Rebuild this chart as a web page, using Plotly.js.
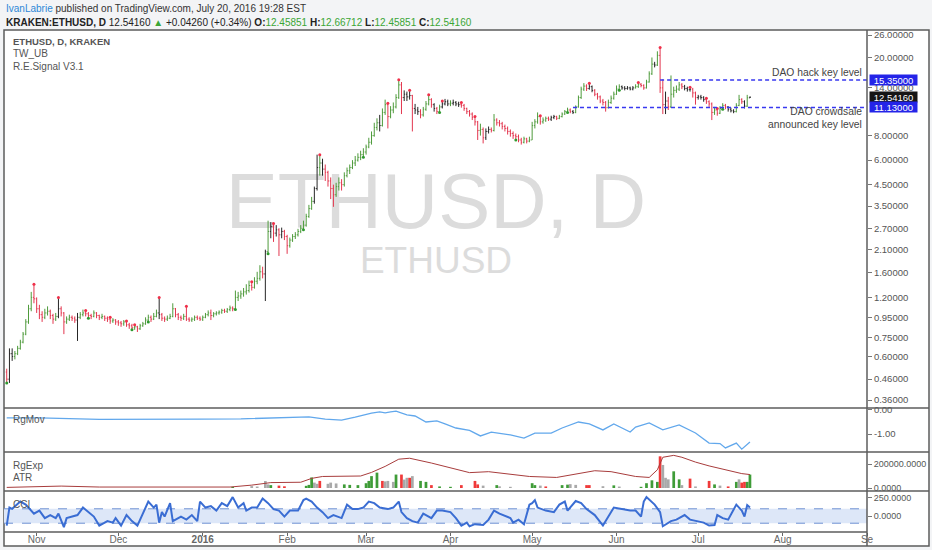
<!DOCTYPE html>
<html>
<head>
<meta charset="utf-8">
<script src="https://cdn.plot.ly/plotly-3.0.1.min.js"></script>
<style>
  html, body { margin: 0; padding: 0; background: #f3f4f6; }
  #chart { width: 932px; height: 550px; }
</style>
</head>
<body>
<div id="chart"></div>
<script>
// daily bars, KRAKEN:ETHUSD, from 2015-10-21 to 2016-07-20
const barOpen = [
  0.50,0.46,0.62,0.60,0.62,0.66,0.71,0.78,0.90,1.05,1.20,
  1.18,1.05,0.98,0.95,1.00,1.02,0.97,0.93,0.96,1.05,1.00,0.90,0.93,0.95,0.94,0.92,0.95,0.98,1.00,0.99,0.97,0.96,1.00,0.97,0.95,0.96,0.94,0.93,0.91,0.92,
  0.90,0.89,0.88,0.90,0.87,0.86,0.84,0.85,0.83,0.86,0.88,0.92,0.95,0.93,0.96,1.00,0.98,0.94,0.93,0.94,0.96,1.05,0.98,0.95,0.94,0.96,0.93,0.92,0.93,0.95,0.94,
  0.93,0.95,0.98,1.00,0.97,0.99,1.00,1.01,1.03,1.02,1.04,1.06,1.05,1.20,1.22,1.25,1.28,1.30,1.38,1.35,1.45,1.50,1.62,1.58,2.05,2.60,2.75,2.55,2.65,2.50,2.60,
  2.45,2.20,2.35,2.45,2.50,2.60,2.70,2.80,3.10,3.40,3.70,4.30,5.50,5.80,5.40,5.20,4.70,4.30,4.00,4.40,4.60,4.50,5.00,5.30,5.50,5.80,6.00,6.20,6.40,
  6.60,7.00,7.40,8.00,8.80,9.30,9.00,10.50,11.50,10.00,10.80,11.20,12.50,14.50,12.50,13.00,12.60,12.80,11.00,10.80,10.60,10.20,10.90,11.60,12.20,11.50,11.00,10.60,11.20,11.60,11.90,
  11.60,11.70,11.80,11.60,11.50,11.40,11.00,10.60,10.30,9.90,9.40,8.50,8.60,7.80,8.40,8.60,8.50,9.60,9.30,9.20,8.90,8.70,8.40,8.20,8.00,7.90,7.60,7.40,7.70,7.50,
  7.60,9.00,9.40,10.00,9.40,9.60,9.80,9.70,9.90,10.00,9.80,10.00,10.30,10.60,10.80,10.60,10.50,11.20,12.50,13.80,14.30,13.90,14.20,13.60,13.00,12.60,12.00,11.80,11.10,11.80,12.40,
  13.00,13.80,14.20,14.00,13.90,14.00,13.80,14.00,14.20,14.60,14.40,14.00,15.00,16.50,18.50,18.30,20.50,14.00,11.50,12.00,11.20,13.00,13.60,13.80,14.50,14.20,13.90,13.70,13.80,13.20,
  12.50,12.60,12.50,12.20,11.90,11.60,10.50,10.80,10.40,11.00,11.40,11.20,10.90,10.70,10.60,11.40,12.20,11.90,11.30,12.46
];
const barHigh = [
  0.52,0.66,0.66,0.64,0.68,0.73,0.80,0.93,1.10,1.28,1.40,
  1.20,1.10,1.02,1.05,1.08,1.04,0.99,1.00,1.20,1.08,1.01,0.96,0.98,0.97,0.96,1.00,1.01,1.04,1.03,1.01,0.99,1.03,1.01,0.98,0.99,0.97,0.96,0.95,0.94,0.93,
  0.92,0.91,0.92,0.91,0.89,0.88,0.87,0.86,0.88,0.90,0.95,0.98,0.97,1.00,1.04,1.20,1.00,0.96,0.97,0.99,1.12,1.06,1.00,0.97,0.99,1.08,0.95,0.95,0.97,0.97,0.96,
  0.97,1.00,1.03,1.04,1.01,1.02,1.03,1.05,1.05,1.06,1.09,1.08,1.30,1.28,1.30,1.34,1.40,1.46,1.44,1.52,1.62,1.75,1.72,2.10,2.95,2.90,2.85,2.80,2.70,2.72,2.65,
  2.50,2.42,2.52,2.58,2.68,2.80,2.95,3.20,3.55,3.90,4.40,6.40,6.40,6.10,5.70,5.30,4.90,4.50,4.60,4.90,4.80,5.20,5.50,5.70,6.00,6.30,6.50,6.70,6.90,
  7.20,7.80,8.40,9.30,9.80,10.20,11.00,12.20,11.70,11.30,11.80,13.00,15.40,15.00,13.60,13.40,13.60,12.90,11.60,11.20,10.90,11.20,12.00,12.90,12.40,11.70,11.20,11.50,12.00,12.30,12.20,
  12.10,12.20,12.00,11.90,11.80,11.60,11.10,10.80,10.50,10.00,9.50,9.20,8.80,8.70,8.90,8.80,10.30,9.80,9.60,9.40,9.10,8.90,8.60,8.40,8.20,8.10,7.80,7.90,7.80,7.90,
  9.40,9.70,10.50,10.10,9.90,10.00,10.00,10.10,10.20,10.10,10.20,10.50,10.80,11.10,11.00,10.80,11.40,12.80,14.20,14.80,14.60,14.80,14.40,13.80,13.20,12.80,12.30,12.00,12.20,12.80,13.40,
  14.40,14.60,14.40,14.30,14.30,14.20,14.30,14.60,14.90,14.80,14.60,15.40,17.00,20.00,19.00,21.50,22.50,15.50,13.40,12.60,16.20,14.20,14.40,15.00,14.80,14.50,14.20,14.10,14.00,13.40,
  12.90,12.90,12.70,12.40,12.10,11.80,11.20,11.00,11.30,11.70,11.60,11.30,11.10,10.90,11.70,12.90,12.40,12.10,12.90,12.67
];
const barLow = [
  0.44,0.44,0.57,0.58,0.61,0.65,0.70,0.77,0.88,1.02,1.12,
  1.00,0.93,0.90,0.93,0.97,0.93,0.88,0.91,0.94,0.96,0.78,0.88,0.91,0.91,0.89,0.72,0.93,0.96,0.96,0.94,0.93,0.95,0.94,0.92,0.93,0.91,0.90,0.88,0.89,0.87,
  0.86,0.85,0.86,0.85,0.83,0.82,0.82,0.80,0.82,0.85,0.87,0.90,0.90,0.92,0.95,0.93,0.91,0.90,0.91,0.93,0.95,0.95,0.92,0.91,0.92,0.91,0.90,0.90,0.91,0.92,0.91,
  0.91,0.94,0.96,0.92,0.95,0.97,0.98,0.99,1.00,1.00,1.02,1.02,1.04,1.15,1.18,1.21,1.24,1.27,1.30,1.33,1.40,1.46,1.50,1.15,2.00,2.40,2.30,2.45,1.95,2.40,2.35,
  2.00,2.15,2.30,2.38,2.45,2.55,2.65,2.75,3.05,3.35,3.60,4.20,5.00,5.00,4.70,4.40,3.80,3.47,3.90,4.20,4.20,4.40,4.90,5.10,5.40,5.60,5.90,6.00,6.20,
  6.40,6.90,7.20,7.90,8.50,8.40,8.90,10.20,8.70,9.80,10.40,11.00,12.30,10.30,12.00,12.00,12.20,8.40,10.30,10.20,9.80,10.00,10.70,11.40,11.10,10.60,10.30,10.50,11.00,11.40,11.30,
  11.30,11.40,11.30,11.20,11.10,10.70,10.30,10.00,9.60,9.00,7.60,8.00,7.30,7.60,8.20,8.30,8.40,9.00,8.90,8.60,8.40,8.10,7.90,7.70,7.60,7.40,7.20,7.30,7.30,7.40,
  7.60,8.70,9.20,9.10,9.20,9.40,9.50,9.50,9.70,9.60,9.70,9.90,10.20,10.50,10.40,10.30,10.40,11.10,12.30,13.50,13.50,13.70,13.30,12.70,12.20,11.70,11.40,10.60,11.00,11.60,12.20,
  12.90,13.60,13.70,13.60,13.70,13.60,13.60,13.90,14.00,14.10,13.70,13.90,14.90,16.30,17.80,18.10,13.20,10.30,10.30,10.80,11.10,12.50,13.20,13.50,13.80,13.60,13.40,13.40,12.50,11.50,
  12.20,12.20,11.90,11.60,11.20,9.60,10.20,10.10,10.30,10.90,10.90,10.60,10.50,10.40,10.50,11.30,11.60,11.00,11.20,12.46
];
const barClose = [
  0.46,0.62,0.60,0.62,0.66,0.71,0.78,0.90,1.05,1.20,1.18,
  1.05,0.98,0.95,1.00,1.02,0.97,0.93,0.96,1.05,1.00,0.90,0.93,0.95,0.94,0.92,0.95,0.98,1.00,0.99,0.97,0.96,1.00,0.97,0.95,0.96,0.94,0.93,0.91,0.92,0.90,
  0.89,0.88,0.90,0.87,0.86,0.84,0.85,0.83,0.86,0.88,0.92,0.95,0.93,0.96,1.00,0.98,0.94,0.93,0.94,0.96,1.05,0.98,0.95,0.94,0.96,0.93,0.92,0.93,0.95,0.94,0.93,
  0.95,0.98,1.00,0.97,0.99,1.00,1.01,1.03,1.02,1.04,1.06,1.05,1.20,1.22,1.25,1.28,1.30,1.38,1.35,1.45,1.50,1.62,1.58,2.05,2.60,2.75,2.55,2.65,2.50,2.60,2.45,
  2.20,2.35,2.45,2.50,2.60,2.70,2.80,3.10,3.40,3.70,4.30,5.50,5.80,5.40,5.20,4.70,4.30,4.00,4.40,4.60,4.50,5.00,5.30,5.50,5.80,6.00,6.20,6.40,6.60,
  7.00,7.40,8.00,8.80,9.30,9.00,10.50,11.50,10.00,10.80,11.20,12.50,14.50,12.50,13.00,12.60,12.80,11.00,10.80,10.60,10.20,10.90,11.60,12.20,11.50,11.00,10.60,11.20,11.60,11.90,11.60,
  11.70,11.80,11.60,11.50,11.40,11.00,10.60,10.30,9.90,9.40,8.50,8.60,7.80,8.40,8.60,8.50,9.60,9.30,9.20,8.90,8.70,8.40,8.20,8.00,7.90,7.60,7.40,7.70,7.50,7.60,
  9.00,9.40,10.00,9.40,9.60,9.80,9.70,9.90,10.00,9.80,10.00,10.30,10.60,10.80,10.60,10.50,11.20,12.50,13.80,14.30,13.90,14.20,13.60,13.00,12.60,12.00,11.80,11.10,11.80,12.40,13.00,
  13.80,14.20,14.00,13.90,14.00,13.80,14.00,14.20,14.60,14.40,14.00,15.00,16.50,18.50,18.30,20.50,14.00,11.50,12.00,11.20,13.00,13.60,13.80,14.50,14.20,13.90,13.70,13.80,13.20,12.50,
  12.60,12.50,12.20,11.90,11.60,10.50,10.80,10.40,11.00,11.40,11.20,10.90,10.70,10.60,11.40,12.20,11.90,11.30,12.46,12.54
];
// bars the signal paints black (neutral), and the signal dots
const neutralBarDay = [1,2,19,26,56,95,97,99,101,113,114,116,137,146,147,148,150,151,157,160,161,162,164,165,166,176,177,200,201,208,214,215,226,227,228,229,230,238,242,249,250,251,254,255,256,265,266,267,271,273];
const sellDotDay = [10,19,29,38,44,47,56,66,90,98,115,140,144,148,155,160,167,172,196,214,232,240,251,257,261];
const buyDotDay = [0,30,46,52,84,96,109,131,159,187,206,225,263];

// indicator readings, keyed by day number counted from 2015-10-21
const rgMovDay = [0,12,34,53,71,86,100,111,117,123,128,134,137,139,141,143,147,150,154,158,161,165,170,174,178,185,190,194,200,204,210,214,219,223,229,231,236,241,247,253,258,262,264,268,270,273];
const rgMovVal = [-0.33,-0.33,-0.39,-0.40,-0.38,-0.37,-0.33,-0.29,-0.38,-0.42,-0.30,-0.13,-0.08,-0.12,-0.08,-0.05,-0.20,-0.25,-0.50,-0.45,-0.58,-0.75,-0.85,-1.08,-0.92,-1.04,-1.17,-0.96,-0.96,-0.75,-0.50,-0.58,-0.83,-0.58,-0.92,-0.71,-0.54,-0.83,-0.62,-0.96,-1.38,-1.40,-1.58,-1.38,-1.63,-1.33];

const rgExpDay = [0,9,20,34,53,71,82,90,97,108,112,116,122,130,134,139,144,148,156,163,170,177,183,192,202,208,216,222,226,231,236,239,241,245,248,253,258,264,270,273];
const rgExpVal = [5000,10000,16000,8000,6000,5000,8000,24000,45000,48000,80000,96000,100000,100000,130000,180000,240000,248000,208000,168000,128000,136000,120000,96000,88000,112000,144000,136000,120000,96000,88000,152000,256000,272000,256000,216000,184000,152000,120000,112000];

const atrDay = [83,90,92,95,96,97,100,102,110,111,112,113,114,115,118,119,121,124,126,129,132,133,134,136,138,139,140,142,143,145,146,147,148,149,152,154,156,159,163,167,172,173,175,180,181,185,193,194,196,198,204,206,207,209,213,214,219,223,225,233,235,237,239,240,241,242,243,245,247,248,251,253,258,260,262,265,268,269,270,271,272,273];
const atrVal = [9000,16000,12000,58000,30000,24000,20000,14000,18000,26000,88000,45000,35000,59000,35000,45000,38000,30000,26000,24000,40000,59000,99000,128000,59000,55000,59000,51000,112000,112000,70000,85000,85000,99000,59000,51000,24000,13000,10000,24000,59000,30000,20000,24000,14000,10000,40000,24000,20000,13000,24000,28000,32000,26000,24000,24000,15000,22000,12000,10000,40000,64000,51000,264000,192000,85000,72000,139000,72000,24000,78000,13000,59000,30000,20000,13000,51000,72000,45000,51000,51000,112000];
const atrTone = 'gkkkkgrrgg' + 'gkkrkkkggg' + 'ggggrkkkgr' + 'kkrkggrggr' + 'rrkgkkggkr' + 'ggkkrrkgkg' + 'gggrkkkggk' + 'rkrgkrgkrr' + 'gg';

const cciDay = [0,1,2,5,7,9,10,12,14,16,18,19,21,22,24,26,28,30,32,34,37,39,40,42,44,46,48,50,52,54,55,56,57,58,60,61,64,66,68,70,71,73,75,77,79,81,83,85,87,88,90,92,94,96,98,100,102,104,107,109,110,112,114,116,118,120,123,125,127,129,131,133,135,137,140,142,144,145,147,149,151,153,156,158,160,163,165,167,169,170,172,175,177,179,181,185,186,188,190,192,193,194,195,198,201,203,205,206,209,211,213,216,219,223,226,229,231,233,234,235,238,240,241,244,246,249,251,253,256,258,260,261,263,265,266,268,270,271,272,273];
const cciVal = [-133,117,100,200,158,75,33,75,-29,13,-29,33,-154,-29,-8,13,117,54,-8,-133,-71,-92,-29,-133,13,-71,-133,33,200,117,158,-92,54,-8,179,-71,-8,-50,13,-71,200,117,137,75,179,137,262,117,179,75,117,117,242,179,96,75,-8,75,75,221,242,200,117,54,-29,13,-29,158,96,96,117,200,179,117,96,117,200,54,-29,-71,-92,33,-29,75,75,54,-29,-133,-92,-142,-113,-125,-50,75,33,-29,-92,-50,-113,158,179,221,117,75,54,158,200,75,208,179,96,13,-133,117,96,75,75,-8,200,262,158,54,-142,-71,-50,13,-50,-71,-92,-133,-125,13,-29,-50,13,158,75,-8,150,117];
const cciBand = 100;

// key levels drawn by the author
const daoHackLevel = 15.35;
const daoHackFrom = '2016-06-17';
const crowdsaleLevel = 11.13;
const crowdsaleFrom = '2016-05-16';
const lastPrice = 12.5416;

const priceTicks = [26, 20, 14, 8, 6, 4.5, 3.5, 2.7, 2.1, 1.6, 1.2, 0.95, 0.75, 0.6, 0.46, 0.36];
const monthTicks = ['2015-11-01','2015-12-01','2016-01-01','2016-02-01','2016-03-01','2016-04-01','2016-05-01','2016-06-01','2016-07-01','2016-08-01','2016-09-01'];
const monthLabels = ['Nov','Dec','<b>2016</b>','Feb','Mar','Apr','May','Jun','Jul','Aug','Se'];
const rangeEnd = '2016-09-01';

const FONT = 'Liberation Sans, Arial, sans-serif';
const W = 932, H = 550;
const M = { l: 4, r: 65, t: 30, b: 18 };
const plotW = W - M.l - M.r;
const plotH = H - M.t - M.b;
const px = x => (x - M.l) / plotW;
const py = y => (H - M.b - y) / plotH;

const dayMs = 86400000;
const startMs = Date.UTC(2015, 9, 21);
const dayToDate = d => new Date(startMs + d * dayMs).toISOString().slice(0, 10);
const toneColor = { g: '#3f9c38', r: '#f03a3a', k: '#a9a9a9' };

const traces = [];

// split bars into green / red / black groups
const groups = { up: [], down: [], flat: [] };
barClose.forEach((c, i) => {
    if (neutralBarDay.includes(i)) groups.flat.push(i);
    else if (c >= barOpen[i]) groups.up.push(i);
    else groups.down.push(i);
});
const barColor = { up: '#4f9b3c', down: '#e3374f', flat: '#262626' };
Object.keys(groups).forEach(key => {
    const idx = groups[key];
    const col = barColor[key];
    traces.push({
        type: 'ohlc',
        x: idx.map(dayToDate),
        open: idx.map(i => barOpen[i]), high: idx.map(i => barHigh[i]),
        low: idx.map(i => barLow[i]), close: idx.map(i => barClose[i]),
        increasing: { line: { color: col, width: 1 } },
        decreasing: { line: { color: col, width: 1 } },
        tickwidth: 0.35,
        xaxis: 'x', yaxis: 'y', hoverinfo: 'skip'
    });
});

traces.push({
    type: 'scatter', mode: 'markers',
    x: sellDotDay.map(dayToDate), y: sellDotDay.map(i => barHigh[i]),
    marker: { color: '#f0304a', size: 3 },
    xaxis: 'x', yaxis: 'y', hoverinfo: 'skip'
});
traces.push({
    type: 'scatter', mode: 'markers',
    x: buyDotDay.map(dayToDate), y: buyDotDay.map(i => barLow[i]),
    marker: { color: '#2f9a2f', size: 3 },
    xaxis: 'x', yaxis: 'y', hoverinfo: 'skip'
});

traces.push({
    type: 'scatter', mode: 'lines',
    x: rgMovDay.map(dayToDate), y: rgMovVal,
    line: { color: '#62a8ec', width: 1.3 },
    xaxis: 'x', yaxis: 'y2', hoverinfo: 'skip'
});

traces.push({
    type: 'bar',
    x: atrDay.map(dayToDate), y: atrVal,
    width: 1.0 * dayMs,
    marker: { color: atrTone.split('').map(t => toneColor[t]), line: { width: 0 } },
    xaxis: 'x', yaxis: 'y3', hoverinfo: 'skip'
});

traces.push({
    type: 'scatter', mode: 'lines',
    x: rgExpDay.map(dayToDate), y: rgExpVal,
    line: { color: '#a83c3c', width: 1 },
    xaxis: 'x', yaxis: 'y3', hoverinfo: 'skip'
});

traces.push({
    type: 'scatter', mode: 'lines',
    x: cciDay.map(dayToDate), y: cciVal,
    line: { color: '#3a6dd3', width: 2 },
    xaxis: 'x', yaxis: 'y4', hoverinfo: 'skip'
});

const sideAxis = (extra) => Object.assign({
    side: 'right', anchor: 'x',
    showgrid: false, zeroline: false, showline: false,
    ticks: 'outside', ticklen: 4, tickcolor: '#777',
    tickfont: { family: FONT, size: 9.5, color: '#555' },
    fixedrange: true
}, extra);

const frameLine = { color: '#5c5c5c', width: 1.5 };
const shapes = [
    { type: 'rect', xref: 'paper', yref: 'paper', x0: px(4), x1: px(929), y0: py(546), y1: py(30),
      line: frameLine, fillcolor: '#ffffff', layer: 'below' },
    { type: 'rect', xref: 'paper', yref: 'paper', x0: px(236), x1: px(636), y0: py(234), y1: py(154),
      line: { width: 0 }, fillcolor: 'rgba(0,0,0,0)', layer: 'below',
      label: { text: 'ETHUSD, D', textposition: 'middle center', font: { family: FONT, size: 78, color: '#dcdcdc' } } },
    { type: 'rect', xref: 'paper', yref: 'paper', x0: px(336), x1: px(536), y0: py(277), y1: py(235),
      line: { width: 0 }, fillcolor: 'rgba(0,0,0,0)', layer: 'below',
      label: { text: 'ETHUSD', textposition: 'middle center', font: { family: FONT, size: 37, color: '#dcdcdc' } } },
    { type: 'rect', xref: 'paper', yref: 'y4', x0: 0, x1: 1, y0: -cciBand, y1: cciBand,
      line: { width: 0 }, fillcolor: '#dde7f8', layer: 'below' },
    { type: 'line', xref: 'paper', yref: 'y4', x0: 0, x1: 1, y0: cciBand, y1: cciBand,
      line: { color: '#6d91d2', width: 1, dash: 'dash' }, layer: 'below' },
    { type: 'line', xref: 'paper', yref: 'y4', x0: 0, x1: 1, y0: -cciBand, y1: -cciBand,
      line: { color: '#6d91d2', width: 1, dash: 'dash' }, layer: 'below' }
];
// dashed key levels
[[daoHackFrom, daoHackLevel], [crowdsaleFrom, crowdsaleLevel]].forEach(([from, lvl]) => {
    shapes.push({
        type: 'line', xref: 'x', yref: 'y', x0: from, x1: rangeEnd, y0: lvl, y1: lvl,
        line: { color: '#3838f0', width: 1.4, dash: '4px,3px' }, layer: 'above'
    });
});
[408, 452, 491].forEach(y => shapes.push({
    type: 'line', xref: 'paper', yref: 'paper', x0: px(4), x1: px(929), y0: py(y), y1: py(y), line: frameLine
}));
shapes.push({ type: 'line', xref: 'paper', yref: 'paper', x0: px(4), x1: px(867), y0: py(532), y1: py(532), line: frameLine });
shapes.push({ type: 'line', xref: 'paper', yref: 'paper', x0: px(867), x1: px(867), y0: py(546), y1: py(30), line: frameLine });

const note = (text, x, y, extra) => Object.assign({
    xref: 'paper', yref: 'paper', x: px(x), y: py(y), text: text,
    showarrow: false, xanchor: 'left', yanchor: 'middle',
    font: { family: FONT, size: 10, color: '#555' }
}, extra);

const green = '#3ba635';
const annotations = [
    note("<span style='color:#2e88d6'>IvanLabrie</span> published on TradingView.com, July 20, 2016 19:28 EST", 4, 8,
         { font: { family: FONT, size: 10, color: '#333' } }),
    note("<b>KRAKEN:ETHUSD, D</b> 12.54160 <span style='color:" + green + "'>▲</span> +0.04260 (+0.34%) " +
         "<b>O:</b><span style='color:" + green + "'>12.45851</span> <b>H:</b><span style='color:" + green + "'>12.66712</span> " +
         "<b>L:</b><span style='color:" + green + "'>12.45851</span> <b>C:</b><span style='color:" + green + "'>12.54160</span>", 4, 22,
         { font: { family: FONT, size: 10, color: '#222' } }),
    note('<b>ETHUSD, D, KRAKEN</b>', 11, 42, { font: { family: FONT, size: 9.5, color: '#555' } }),
    note('TW_UB', 11, 54),
    note('R.E.Signal V3.1', 11, 66),
    note('RgMov', 11, 419),
    note('RgExp', 11, 465),
    note('ATR', 11, 477),
    note('CCI', 11, 504),
    note('DAO hack key level', 864, 72, { xanchor: 'right', font: { family: FONT, size: 10.3, color: '#444' } }),
    note('DAO crowdsale<br>announced key level', 864, 118, { xanchor: 'right', align: 'right', font: { family: FONT, size: 10.3, color: '#444' } })
];
[[daoHackLevel, '#2424e8'], [lastPrice, '#151515'], [crowdsaleLevel, '#2424e8']].forEach(([lvl, bg]) => {
    annotations.push({
        xref: 'paper', yref: 'y', x: px(869), y: Math.log10(lvl),
        text: lvl.toFixed(5), showarrow: false, xanchor: 'left', yanchor: 'middle',
        bgcolor: bg, borderpad: 0, width: 47, height: 10,
        font: { family: FONT, size: 9.5, color: '#ffffff' }
    });
});

const layout = {
    width: W, height: H,
    margin: { l: M.l, r: M.r, t: M.t, b: M.b, pad: 0 },
    paper_bgcolor: '#f3f4f6',
    plot_bgcolor: '#ffffff',
    showlegend: false,
    font: { family: FONT, size: 10, color: '#555' },
    xaxis: {
        type: 'date', range: ['2015-10-20', rangeEnd], anchor: 'y4',
        tickmode: 'array', tickvals: monthTicks, ticktext: monthLabels,
        ticks: 'outside', ticklen: 3, tickcolor: '#666',
        ticklabelstandoff: -5,
        tickfont: { family: FONT, size: 10, color: '#666' },
        showgrid: false, zeroline: false, showline: false,
        rangeslider: { visible: false }, fixedrange: true
    },
    yaxis: sideAxis({
        type: 'log', domain: [py(408), 1],
        range: [Math.log10(0.328), Math.log10(27.6)],
        tickmode: 'array', tickvals: priceTicks, ticktext: priceTicks.map(v => v.toFixed(5))
    }),
    yaxis2: sideAxis({
        domain: [py(452), py(408)], range: [-1.75, 0.083],
        tickmode: 'array', tickvals: [0, -1], ticktext: ['0.00', '-1.00']
    }),
    yaxis3: sideAxis({
        domain: [py(491), py(452)], range: [-25000, 300000],
        tickmode: 'array', tickvals: [0, 200000], ticktext: ['0.0000', '200000.0000'],
        tickfont: { family: FONT, size: 9, color: '#555' }
    }),
    yaxis4: sideAxis({
        domain: [0, py(491)], range: [-222, 347],
        tickmode: 'array', tickvals: [0, 250], ticktext: ['0.0000', '250.0000'],
        tickfont: { family: FONT, size: 9, color: '#555' }
    }),
    shapes: shapes,
    annotations: annotations
};

Plotly.newPlot('chart', traces, layout, { displayModeBar: false, staticPlot: true });
</script>
</body>
</html>
